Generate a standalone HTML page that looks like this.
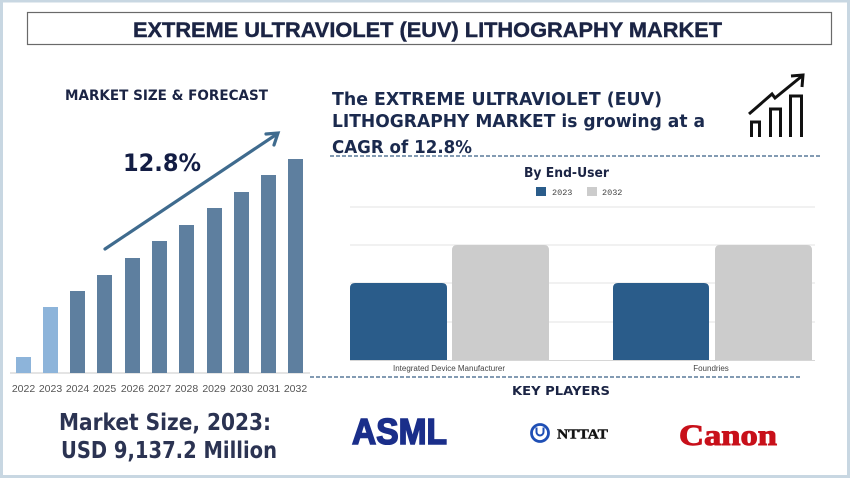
<!DOCTYPE html>
<html><head><meta charset="utf-8"><style>
html,body{margin:0;padding:0;background:#fff;}
svg{display:block;}
</style></head><body>
<svg width="850" height="478" viewBox="0 0 850 478" xmlns="http://www.w3.org/2000/svg">
<rect x="0" y="0" width="850" height="478" fill="#ffffff"/>
<rect x="1.5" y="1" width="847" height="475.5" fill="none" stroke="#c8d7e2" stroke-width="3"/>
<!-- Title -->
<rect x="27.5" y="12.5" width="804" height="32" fill="#fff" stroke="#6a6a6a" stroke-width="1.2"/>
<text x="133" y="37" font-family="Liberation Sans, sans-serif" font-weight="bold" font-size="21" fill="#1b2444" stroke="#1b2444" stroke-width="0.4" textLength="589" lengthAdjust="spacingAndGlyphs">EXTREME ULTRAVIOLET (EUV) LITHOGRAPHY MARKET</text>

<!-- Left -->
<text x="65" y="100" font-family="DejaVu Sans, sans-serif" font-weight="bold" font-size="14.5" fill="#1b2444" textLength="203" lengthAdjust="spacingAndGlyphs">MARKET SIZE &amp; FORECAST</text>
<text x="123" y="171" font-family="DejaVu Sans, sans-serif" font-weight="bold" font-size="24" fill="#131d44" textLength="78" lengthAdjust="spacingAndGlyphs">12.8%</text>
<line x1="10" y1="373" x2="310" y2="373" stroke="#c8c8c8" stroke-width="1"/>
<g fill="#8db4da">
<rect x="16" y="357" width="15" height="16"/>
<rect x="43" y="307" width="15" height="66"/>
</g>
<g fill="#5e7f9f">
<rect x="70" y="291" width="15" height="82"/>
<rect x="97" y="275" width="15" height="98"/>
<rect x="125" y="258" width="15" height="115"/>
<rect x="152" y="241" width="15" height="132"/>
<rect x="179" y="225" width="15" height="148"/>
<rect x="207" y="208" width="15" height="165"/>
<rect x="234" y="192" width="15" height="181"/>
<rect x="261" y="175" width="15" height="198"/>
<rect x="288" y="159" width="15" height="214"/>
</g>
<g stroke="#3f6b8e" stroke-width="3.2" fill="none" stroke-linecap="round">
<line x1="105" y1="249" x2="277" y2="134"/>
<polyline points="266,134 278,133 274,145"/>
</g>
<g font-family="Liberation Sans, sans-serif" font-size="10.5" fill="#555" text-anchor="middle">
<text x="23.5" y="392">2022</text>
<text x="50.5" y="392">2023</text>
<text x="77.5" y="392">2024</text>
<text x="104.5" y="392">2025</text>
<text x="132.5" y="392">2026</text>
<text x="159.5" y="392">2027</text>
<text x="186.5" y="392">2028</text>
<text x="214" y="392">2029</text>
<text x="241.5" y="392">2030</text>
<text x="268.5" y="392">2031</text>
<text x="295.5" y="392">2032</text>
</g>
<text x="59" y="430" font-family="DejaVu Sans, sans-serif" font-weight="bold" font-size="23" fill="#2b3352" textLength="212" lengthAdjust="spacingAndGlyphs">Market Size, 2023:</text>
<text x="61" y="458" font-family="DejaVu Sans, sans-serif" font-weight="bold" font-size="23" fill="#2b3352" textLength="216" lengthAdjust="spacingAndGlyphs">USD 9,137.2 Million</text>

<!-- Right header text -->
<g font-family="DejaVu Sans, sans-serif" font-weight="bold" font-size="18" fill="#1b2a4e">
<text x="332" y="105" textLength="330" lengthAdjust="spacingAndGlyphs">The EXTREME ULTRAVIOLET (EUV)</text>
<text x="332" y="127" textLength="373" lengthAdjust="spacingAndGlyphs">LITHOGRAPHY MARKET is growing at a</text>
<text x="332" y="153" textLength="140" lengthAdjust="spacingAndGlyphs">CAGR of 12.8%</text>
</g>
<line x1="330" y1="156" x2="820" y2="156" stroke="#5a7a9a" stroke-width="1.5" stroke-dasharray="4,2"/>

<!-- Icon -->
<g stroke="#111" stroke-width="3" fill="none" stroke-linejoin="miter">
<polyline points="751.5,137 751.5,122 759.5,122 759.5,137"/>
<polyline points="770.5,137 770.5,109 780.5,109 780.5,137"/>
<polyline points="790.5,137 790.5,96 801.5,96 801.5,137"/>
<polyline points="749,114 772,94 775,98 802,76"/>
<polyline points="791,76 803,75 802,87"/>
</g>

<!-- By End-User chart -->
<text x="524" y="177" font-family="DejaVu Sans, sans-serif" font-weight="bold" font-size="13" fill="#1b2444" textLength="85" lengthAdjust="spacingAndGlyphs">By End-User</text>
<rect x="536" y="187" width="10" height="9" fill="#2a5c8a"/>
<text x="552" y="195" font-family="Liberation Mono, monospace" font-size="8.5" fill="#444">2023</text>
<rect x="587" y="187" width="10" height="9" fill="#cccccc"/>
<text x="602" y="195" font-family="Liberation Mono, monospace" font-size="8.5" fill="#444">2032</text>
<g stroke="#e3e3e3" stroke-width="1">
<line x1="350" y1="207" x2="815" y2="207"/>
<line x1="350" y1="245" x2="815" y2="245"/>
<line x1="350" y1="283" x2="815" y2="283"/>
<line x1="350" y1="322" x2="815" y2="322"/>
</g>
<path d="M350,360 V288 Q350,283 355,283 H442 Q447,283 447,288 V360 Z" fill="#2a5c8a"/>
<path d="M452,360 V250 Q452,245 457,245 H544 Q549,245 549,250 V360 Z" fill="#cccccc"/>
<path d="M613,360 V288 Q613,283 618,283 H704 Q709,283 709,288 V360 Z" fill="#2a5c8a"/>
<path d="M715,360 V250 Q715,245 720,245 H807 Q812,245 812,250 V360 Z" fill="#cccccc"/>
<line x1="350" y1="360.5" x2="815" y2="360.5" stroke="#d6d6d6" stroke-width="1"/>
<g font-family="Liberation Sans, sans-serif" font-size="8" fill="#444" text-anchor="middle">
<text x="449" y="371">Integrated Device Manufacturer</text>
<text x="711" y="371">Foundries</text>
</g>
<line x1="310" y1="377" x2="802" y2="377" stroke="#5a7a9a" stroke-width="1.5" stroke-dasharray="4,2"/>

<!-- Key players -->
<text x="512" y="395" font-family="DejaVu Sans, sans-serif" font-weight="bold" font-size="12" fill="#1b2444" textLength="98" lengthAdjust="spacingAndGlyphs">KEY PLAYERS</text>
<text x="352" y="444" font-family="Liberation Sans, sans-serif" font-weight="bold" font-size="36" fill="#1a2e8a" stroke="#1a2e8a" stroke-width="1.6" textLength="95" lengthAdjust="spacingAndGlyphs">ASML</text>
<circle cx="540" cy="433" r="8.5" fill="none" stroke="#1f4fb5" stroke-width="2.8"/>
<path d="M536.5,427.5 V432 A3.5,3.5 0 0 0 543.5,432 V427.5" fill="none" stroke="#1f4fb5" stroke-width="2"/>
<text x="557" y="438.5" font-family="Liberation Serif, serif" font-weight="bold" font-size="14" fill="#111" stroke="#111" stroke-width="0.4" textLength="51" lengthAdjust="spacingAndGlyphs">NTTAT</text>
<text x="679" y="445" font-family="Liberation Serif, serif" font-weight="bold" font-size="30" fill="#c8101a" stroke="#c8101a" stroke-width="1" textLength="98" lengthAdjust="spacingAndGlyphs">Canon</text>
</svg>
</body></html>
